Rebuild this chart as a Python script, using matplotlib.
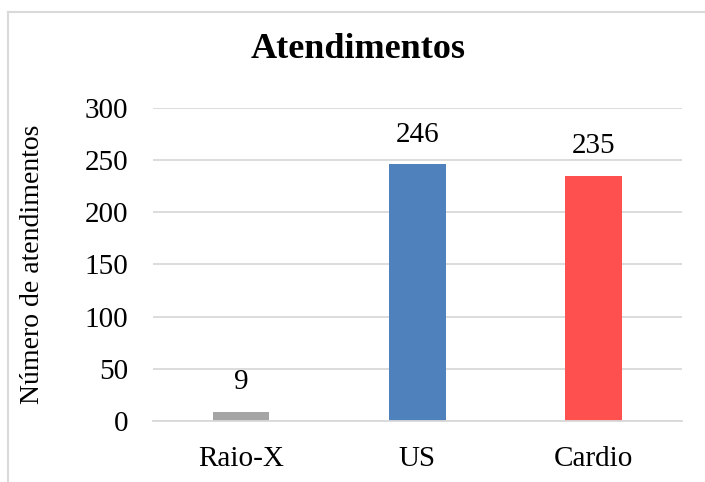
import matplotlib
matplotlib.use("Agg")
import matplotlib.pyplot as plt
from matplotlib.lines import Line2D

categories = ["Raio-X", "US", "Cardio"]
values = [9, 246, 235]
colors = ["#A5A5A5", "#4F81BD", "#FF5050"]
yticks = [0, 50, 100, 150, 200, 250, 300]
title = "Atendimentos"
ylabel = "Número de atendimentos"

plt.rcParams['font.family'] = ['Liberation Serif', 'DejaVu Serif']

fig = plt.figure(figsize=(7.05, 4.82), dpi=100)
ax = fig.add_axes([0.217, 0.1266, 0.750, 0.6494])

x = list(range(len(categories)))
bars = ax.bar(x, values, width=0.32, color=colors, zorder=3)
for xi, v in zip(x, values):
    ax.annotate(str(v), (xi, v), xytext=(0, 12), textcoords="offset points",
                ha="center", va="bottom", fontsize=21, color="#000000")

ax.set_xlim(-0.5, len(categories) - 0.5)
ax.set_ylim(0, 300)
ax.set_yticks(yticks)
ax.set_xticks(x)
ax.set_xticklabels(categories)
ax.tick_params(axis="both", length=0, labelsize=21, colors="#000000")
ax.tick_params(axis="y", pad=18)
ax.tick_params(axis="x", pad=18)
ax.yaxis.grid(True, color="#D9D9D9", linewidth=1.3, zorder=0)
for s in ["top", "right", "left"]:
    ax.spines[s].set_visible(False)
ax.spines["bottom"].set_color("#D9D9D9")
ax.spines["bottom"].set_linewidth(1.3)
ax.spines["bottom"].set_zorder(4)

ax.set_ylabel(ylabel, fontsize=20)
ax.yaxis.set_label_coords(-0.16, 0.5, transform=None) if False else None
fig.text(33 / 705, 0.5 * (0.1266 + 0.776), ylabel, rotation=90, ha="center", va="center", fontsize=20)
ax.set_ylabel("")

fig.text(358 / 705, 1 - 58.5 / 482, title, ha="center", va="baseline",
         fontsize=26, fontweight="bold")

# outer chart border (partially cropped)
fig.add_artist(Line2D([8 / 705, 1.0], [1 - 12 / 482, 1 - 12 / 482], color="#D9D9D9", linewidth=1.5))
fig.add_artist(Line2D([8 / 705, 8 / 705], [0, 1 - 12 / 482], color="#D9D9D9", linewidth=1.5))

fig.savefig("out.png", dpi=100)
